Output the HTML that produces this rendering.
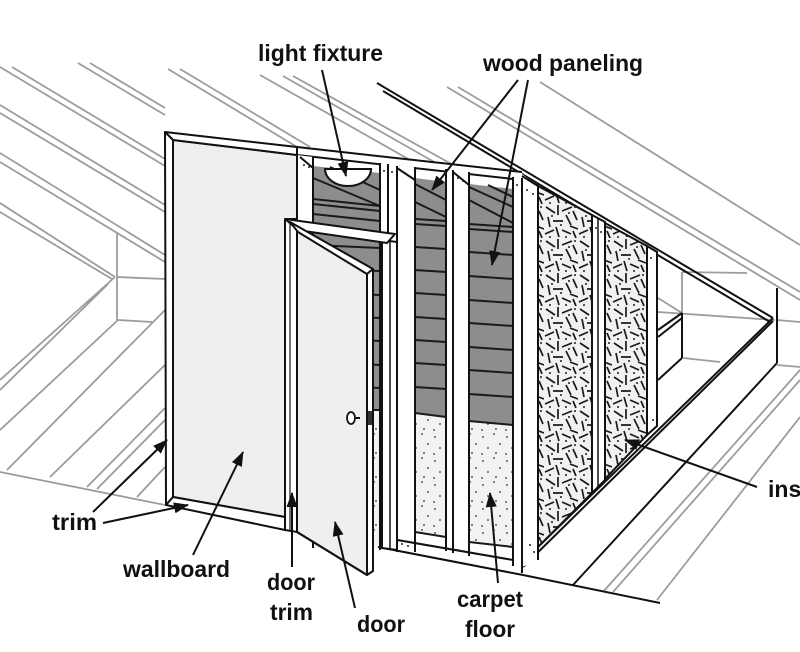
<!DOCTYPE html>
<html><head><meta charset="utf-8"><style>
html,body{margin:0;padding:0;background:#fff;}
svg{display:block;}
text{font-family:"Liberation Sans",Arial,sans-serif;font-weight:bold;fill:#111;font-size:23px;}
</style></head><body>
<svg width="800" height="652" viewBox="0 0 800 652" xmlns="http://www.w3.org/2000/svg">
<defs>
<marker id="ah" markerUnits="userSpaceOnUse" markerWidth="15" markerHeight="11" refX="14" refY="5.5" orient="auto"><path d="M0,0 L15,5.5 L0,11 z" fill="#111"/></marker>
<pattern id="ins" patternUnits="userSpaceOnUse" width="34" height="34">
<rect width="34" height="34" fill="#f1f1f1"/>
<g stroke="#1a1a1a" stroke-width="1.7">
<path d="M2,3 L11,9 M14,1 L14,11 M18,7 L28,3 M29,7 L33,16 M4,13 L6,23 M9,17 L19,17 M22,11 L27,21 M26,22 L34,25 M1,30 L10,26 M12,23 L15,33 M18,26 L27,30 M29,27 L32,34"/>
</g>
<g fill="#222"><circle cx="8" cy="12" r="1"/><circle cx="25" cy="9" r="1"/><circle cx="17" cy="21" r="1"/><circle cx="6" cy="33" r="1"/><circle cx="31" cy="3" r="1"/><circle cx="22" cy="33" r="1"/></g>
</pattern>
<pattern id="dots" patternUnits="userSpaceOnUse" width="24" height="24">
<rect width="24" height="24" fill="#f2f2f2"/>
<g fill="#333"><circle cx="3" cy="5" r="0.9"/><circle cx="14" cy="2" r="0.9"/><circle cx="20" cy="12" r="0.9"/><circle cx="8" cy="16" r="0.9"/><circle cx="16" cy="21" r="0.9"/><circle cx="2" cy="22" r="0.9"/></g>
</pattern>
</defs>
<rect width="800" height="652" fill="#fff"/>

<!-- gray background lines -->
<g stroke="#9c9c9c" stroke-width="1.8" fill="none">
<path d="M0,67 L165,166 M12,67 L165,159 M78,63 L165,115 M90,63 L165,108 M168,69 L297,147 M180,69 L310,147 M260,75 L410,160 M283,76 L436,163 M293,76 L455,166"/>
<path d="M447,87 L800,300 M458,87 L800,292 M540,82 L800,245"/>
<path d="M0,105 L165,205 M0,113 L165,212 M0,153 L165,255 M0,162 L165,262 M0,203 L115,277 M0,212 L112,279"/>
<path d="M117,232 L117,320 M117,277 L165,279 M118,320 L152,322"/>
<path d="M115,277 L0,380 M108,284 L0,390 M118,320 L0,430 M165,310 L7,470 M165,365 L50,477 M165,408 L87,487 M165,420 L97,489 M165,467 L137,497 M0,472 L165,505"/>
<path d="M800,370 L603,592 M800,380 L613,592 M800,417 L657,600 M777,365 L800,367 M777,320 L800,322"/>
<path d="M682,272 L747,273 M682,272 L682,313 M658,298 L682,313 M658,312 L775,320 M683,358 L720,362"/>
</g>

<!-- right room box & floor black lines -->
<g stroke="#111" stroke-width="2" fill="none">
<path d="M682,313 L682,358 M658,330 L682,313 M658,337 L682,318 M682,358 L658,380"/>
<path d="M777,288 L777,363 M573,585 L777,363 M523,575 L660,603"/>
<path d="M523,567 L773,321 M538,547 L773,318"/>
<path d="M377,83 L773,318 M383,91 L770,322"/>
</g>

<!-- receding wall: insulation & studs -->
<polygon points="522,174 538,186 538,560 522,567" fill="#fff"/>
<polygon points="538,186 592,215 592,493 538,547" fill="url(#ins)" stroke="#111" stroke-width="2"/>
<polygon points="592,215 605,222 605,480 592,493" fill="#fff" stroke="#111" stroke-width="2"/>
<line x1="598" y1="218" x2="598" y2="487" stroke="#111" stroke-width="1.5"/>
<polygon points="605,223 647,246 647,435 605,479" fill="url(#ins)" stroke="#111" stroke-width="2"/>
<polygon points="647,246 657,252 657,426 647,435" fill="#fff" stroke="#111" stroke-width="2"/>
<g fill="#222"><circle cx="596" cy="228" r="1"/><circle cx="601" cy="232" r="1"/><circle cx="651" cy="258" r="1"/><circle cx="653" cy="420" r="1"/><circle cx="527" cy="190" r="1"/><circle cx="533" cy="194" r="1"/><circle cx="530" cy="545" r="1"/><circle cx="534" cy="552" r="1"/></g>

<!-- front wall framing: top plate -->
<polygon points="297,147 522,172 522,181 297,156" fill="#fff"/>
<g stroke="#111" stroke-width="2" fill="none"><path d="M297,147 L522,172 M297,155 L522,180"/></g>

<!-- bays -->
<polygon points="313,166 380,173 380,548 313,548" fill="#8d8d8d"/>
<rect x="313" y="410" width="67" height="138" fill="url(#dots)"/>
<polygon points="415,178 446,182 446,417 415,413" fill="#8d8d8d"/>
<polygon points="415,413 446,417 446,537 415,532" fill="url(#dots)"/>
<polygon points="469,184 513,189 513,425 469,421" fill="#8d8d8d"/>
<polygon points="469,421 513,425 513,547 469,542" fill="url(#dots)"/>
<g stroke="#1a1a1a" stroke-width="2" fill="none">
<path d="M313,178 L380,206 M330,167 L380,190 M313,199 L380,206 M313,204 L380,211 M313,214 L380,221 M313,245 L380,248 M313,268 L380,271 M313,292 L380,295 M313,315 L380,318 M313,338 L380,341 M313,362 L380,365 M313,385 L380,388 M313,410 L380,410"/>
<path d="M415,184 L446,200 M415,202 L446,217 M415,219 L446,221 M415,224 L446,226 M415,247 L446,249 M415,270 L446,272 M415,293 L446,295 M415,317 L446,319 M415,340 L446,342 M415,363 L446,365 M415,387 L446,389 M415,413 L446,417 M415,532 L446,537"/>
<path d="M469,187 L513,207 M469,200 L513,223 M488,185 L513,197 M469,224 L513,227 M469,229 L513,232 M469,252 L513,255 M469,276 L513,279 M469,300 L513,303 M469,323 L513,326 M469,347 L513,350 M469,370 L513,373 M469,394 L513,397 M469,421 L513,425 M469,542 L513,547"/>
</g>

<!-- studs -->
<polygon points="297,155 313,157 313,548 297,548" fill="#fff"/>
<polygon points="380,163 415,167 415,552 380,548" fill="#fff"/>
<polygon points="446,169 469,172 469,556 446,551" fill="#fff"/>
<polygon points="513,177 522,178 522,570 513,566" fill="#fff"/>
<polygon points="380,537 522,561 522,575 380,550" fill="#fff"/>
<g stroke="#111" stroke-width="2" fill="none">
<path d="M313,157 L313,548 M300,157 L313,168"/>
<path d="M380,163 L380,550 M388,164 L388,550 M397,166 L397,552 M415,167 L415,552 M397,168 L415,180"/>
<path d="M446,169 L446,551 M453,170 L453,553 M469,172 L469,556 M453,172 L469,185"/>
<path d="M513,177 L513,566 M522,178 L522,573 M538,184 L538,560 M522,176 L538,186"/>
<path d="M380,537 L513,560 M378,547 L523,575"/>
</g>
<g fill="#222"><circle cx="304" cy="165" r="1"/><circle cx="309" cy="167" r="1"/><circle cx="384" cy="171" r="1"/><circle cx="392" cy="172" r="1"/><circle cx="458" cy="178" r="1"/><circle cx="463" cy="181" r="1"/><circle cx="402" cy="544" r="1"/><circle cx="408" cy="546" r="1"/><circle cx="458" cy="550" r="1"/><circle cx="517" cy="185" r="1"/></g>

<!-- door frame -->
<polygon points="382,240 397,242 397,550 382,548" fill="#fff" stroke="#111" stroke-width="2"/>
<line x1="390" y1="242" x2="390" y2="549" stroke="#111" stroke-width="1.5"/>
<polygon points="285,219 395,234 387,243 297,230" fill="#fff" stroke="#111" stroke-width="2" stroke-linejoin="round"/>
<polygon points="285,219 297,229 297,532 285,530" fill="#fff" stroke="#111" stroke-width="2"/>
<line x1="290" y1="224" x2="290" y2="531" stroke="#111" stroke-width="1.2"/>

<!-- door leaf -->
<polygon points="297,231 367,273 367,575 297,532" fill="#efefef" stroke="#111" stroke-width="2" stroke-linejoin="round"/>
<polygon points="290,222 373,269 367,274 298,232" fill="#fff" stroke="#111" stroke-width="2" stroke-linejoin="round"/>
<polygon points="367,274 373,269 373,571 367,575" fill="#fff" stroke="#111" stroke-width="2" stroke-linejoin="round"/>
<ellipse cx="351" cy="418" rx="4" ry="6" fill="#fff" stroke="#111" stroke-width="1.8"/>
<line x1="355" y1="418" x2="360" y2="418" stroke="#111" stroke-width="2"/>
<rect x="368" y="411" width="4" height="14" fill="#333"/>

<!-- wallboard & trim -->
<polygon points="173,140 297,155 297,219 285,219 285,517 173,497" fill="#efefef" stroke="#111" stroke-width="2" stroke-linejoin="round"/>
<polygon points="165,132 297,147 297,155 173,140" fill="#fff" stroke="#111" stroke-width="2" stroke-linejoin="round"/>
<polygon points="165,132 173,140 173,497 166,505" fill="#fff" stroke="#111" stroke-width="2" stroke-linejoin="round"/>
<polygon points="166,505 173,497 285,517 285,530" fill="#fff" stroke="#111" stroke-width="2" stroke-linejoin="round"/>
<line x1="297" y1="532" x2="367" y2="575" stroke="#111" stroke-width="2"/>

<!-- light fixture -->
<path d="M325,169 L371,169 A23,17 0 0 1 325,169 Z" fill="#fff" stroke="#111" stroke-width="2"/>

<!-- arrows -->
<g stroke="#111" stroke-width="2" fill="none" marker-end="url(#ah)">
<line x1="322" y1="70" x2="346" y2="176"/>
<line x1="518" y1="80" x2="432" y2="190"/>
<line x1="528" y1="80" x2="492" y2="265"/>
<line x1="93" y1="512" x2="167" y2="440"/>
<line x1="103" y1="523" x2="188" y2="505"/>
<line x1="193" y1="555" x2="243" y2="452"/>
<line x1="292" y1="567" x2="292" y2="493"/>
<line x1="355" y1="608" x2="335" y2="522"/>
<line x1="498" y1="583" x2="490" y2="493"/>
<line x1="757" y1="487" x2="625" y2="440"/>
</g>

<!-- labels -->
<text x="258" y="61" textLength="125" lengthAdjust="spacingAndGlyphs">light fixture</text>
<text x="483" y="71" textLength="160" lengthAdjust="spacingAndGlyphs">wood paneling</text>
<text x="52" y="530" textLength="45" lengthAdjust="spacingAndGlyphs">trim</text>
<text x="123" y="577" textLength="107" lengthAdjust="spacingAndGlyphs">wallboard</text>
<text x="267" y="590" textLength="48" lengthAdjust="spacingAndGlyphs">door</text>
<text x="270" y="620" textLength="43" lengthAdjust="spacingAndGlyphs">trim</text>
<text x="357" y="632" textLength="48" lengthAdjust="spacingAndGlyphs">door</text>
<text x="457" y="607" textLength="66" lengthAdjust="spacingAndGlyphs">carpet</text>
<text x="465" y="637" textLength="50" lengthAdjust="spacingAndGlyphs">floor</text>
<text x="768" y="497">insulation</text>
</svg>
</body></html>
